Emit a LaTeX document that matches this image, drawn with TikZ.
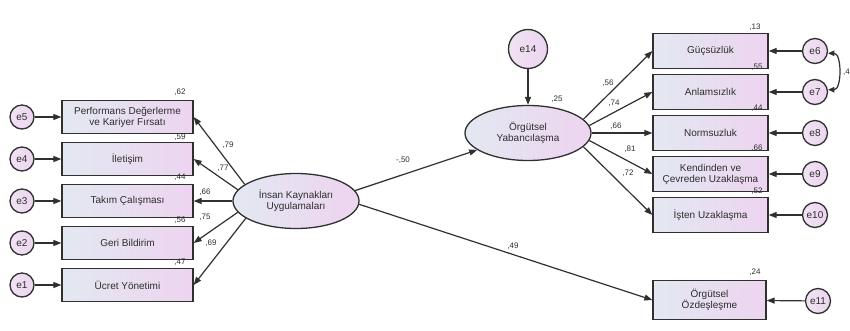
\documentclass[tikz,border=0pt]{standalone}
\usepackage{fontspec}
\setmainfont{Liberation Sans}
\usetikzlibrary{arrows.meta,shapes.geometric}
\definecolor{ln}{HTML}{303030}
\definecolor{txt}{HTML}{2E2E2E}
\definecolor{boxL}{HTML}{E3E8F1}
\definecolor{boxR}{HTML}{EDD4F0}
\definecolor{cirL}{HTML}{F1E2F3}
\definecolor{cirR}{HTML}{EBD5EF}
\begin{document}
\begin{tikzpicture}[x=1pt,y=-1pt,
  every node/.style={font=\fontsize{10}{11}\selectfont, text=txt},
  obs/.style={draw=ln, line width=1.3pt, left color=boxL, right color=boxR,
    minimum width=131pt, minimum height=33pt, inner sep=0pt, align=center},
  obsr/.style={obs, minimum width=115pt, minimum height=35pt},
  lat/.style={ellipse, draw=ln, line width=1.3pt, left color=boxL, right color=boxR,
    minimum width=126pt, minimum height=55pt, inner sep=0pt, align=center},
  err/.style={circle, draw=ln, line width=1.3pt, left color=cirL, right color=cirR,
    minimum size=24pt, inner sep=0pt},
  lbl/.style={font=\fontsize{8}{8.5}\selectfont, inner sep=0pt, text=txt},
  arr/.style={draw=ln, line width=1.2pt, -{Triangle[length=8pt,width=6pt]}},
  darr/.style={draw=ln, line width=1.2pt, {Triangle[length=6.5pt,width=5.5pt]}-{Triangle[length=6.5pt,width=5.5pt]}}
]
\useasboundingbox (0,0) rectangle (850,331);

% left indicators
\node[obs] (b1) at (127.5,117) {Performans Değerlerme\\ve Kariyer Fırsatı};
\node[obs] (b2) at (127.5,159) {İletişim};
\node[obs] (b3) at (127.5,201) {Takım Çalışması};
\node[obs] (b4) at (127.5,243) {Geri Bildirim};
\node[obs] (b5) at (127.5,285) {Ücret Yönetimi};

\node[err] (e5) at (22,117) {e5};
\node[err] (e4) at (22,159) {e4};
\node[err] (e3) at (22,201) {e3};
\node[err] (e2) at (22,243) {e2};
\node[err] (e1) at (22,285) {e1};

% latents
\node[lat] (ik) at (296,201) {İnsan Kaynakları\\Uygulamaları};
\node[lat] (yab) at (528,133) {Örgütsel\\Yabancılaşma};
\node[err, minimum size=39pt] (e14) at (528,49) {e14};

% right indicators
\node[obsr] (r1) at (710.5,51) {Güçsüzlük};
\node[obsr] (r2) at (710.5,92) {Anlamsızlık};
\node[obsr] (r3) at (710.5,133) {Normsuzluk};
\node[obsr] (r4) at (710.5,174) {Kendinden ve\\Çevreden Uzaklaşma};
\node[obsr] (r5) at (710.5,215) {İşten Uzaklaşma};
\node[obsr, minimum width=113pt, minimum height=39pt] (oz) at (709.5,300) {Örgütsel\\Özdeşleşme};

\node[err, minimum size=25pt] (e6) at (815,51) {e6};
\node[err, minimum size=25pt] (e7) at (815,92) {e7};
\node[err, minimum size=25pt] (e8) at (815,133) {e8};
\node[err, minimum size=25pt] (e9) at (815,174) {e9};
\node[err, minimum size=25pt] (e10) at (815,215) {e10};
\node[err, minimum size=25pt] (e11) at (818,301) {e11};

% error arrows
\foreach \e/\b in {e5/b1,e4/b2,e3/b3,e2/b4,e1/b5}
  \draw[arr] (\e) -- (\b);
\foreach \e/\b in {e6/r1,e7/r2,e8/r3,e9/r4,e10/r5,e11/oz}
  \draw[arr] (\e) -- (\b);
\draw[arr] (e14) -- (yab);

% loadings left
\draw[arr] (ik.162) -- (b1.east);
\draw[arr] (ik.169) -- (b2.east);
\draw[arr] (ik.180) -- (b3.east);
\draw[arr] (ik.191) -- (b4.east);
\draw[arr] (ik.199) -- (b5.east);

% structural
\draw[arr] (ik.10) -- (yab);
\draw[arr] (ik.-3) -- (oz.west);

% loadings right
\draw[arr] (yab.14) -- (r1.west);
\draw[arr] (yab.7) -- (r2.west);
\draw[arr] (yab.0) -- (r3.west);
\draw[arr] (yab.-7) -- (r4.west);
\draw[arr] (yab.-14) -- (r5.west);

% covariance
\draw[darr] (e6.-10) .. controls ([xshift=14pt]e6.-10) and ([xshift=14pt]e7.10) .. (e7.10);
\node[lbl, anchor=west] (cv) at (843,72) {,4};

% coefficient labels
\node[lbl] (l79) at (228,145) {,79};
\node[lbl] (l77) at (223,168) {,77};
\node[lbl] (l66a) at (205,192) {,66};
\node[lbl] (l75) at (205,217) {,75};
\node[lbl] (l69) at (211,243) {,69};
\node[lbl] (l50) at (403,160) {-,50};
\node[lbl] (l49) at (513,246) {,49};
\node[lbl] (l56) at (608,83) {,56};
\node[lbl] (l74) at (614,103) {,74};
\node[lbl] (l66b) at (616,126) {,66};
\node[lbl] (l81) at (630,149) {,81};
\node[lbl] (l72) at (628,173) {,72};

% R squared labels
\node[lbl] (s62) at (180,92) {,62};
\node[lbl] (s59) at (180,137) {,59};
\node[lbl] (s44a) at (180,177) {,44};
\node[lbl] (s56) at (180,220) {,56};
\node[lbl] (s47) at (180,262) {,47};
\node[lbl] (s25) at (557,99) {,25};
\node[lbl] (s13) at (755,27) {,13};
\node[lbl] (s55) at (757,67) {,55};
\node[lbl] (s44b) at (757,108) {,44};
\node[lbl] (s66) at (757,148) {,66};
\node[lbl] (s52) at (757,191) {,52};
\node[lbl] (s24) at (755,272) {,24};
\end{tikzpicture}
\end{document}
